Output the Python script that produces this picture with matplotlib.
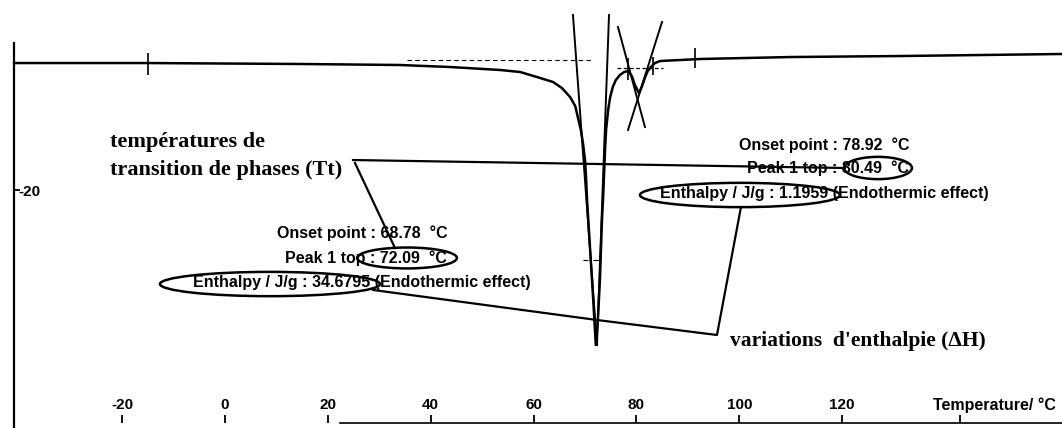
import matplotlib
matplotlib.use('Agg')
import matplotlib.pyplot as plt
from matplotlib.patches import Ellipse

# DSC thermogram
temp = [-41.0, -15.0, 14.6, 34.0, 43.8, 53.5, 57.4, 61.3, 63.8, 65.5,
        67.1, 68.1, 68.6, 69.2, 69.6, 70.0, 70.2, 70.4, 71.0, 71.6,
        72.1, 72.5, 72.9, 73.1, 73.3, 73.5, 73.7, 73.9, 74.1, 74.5,
        74.9, 75.4, 76.0, 76.8, 77.6, 78.4, 79.1, 79.7, 80.5, 81.1,
        81.7, 82.2, 82.8, 83.6, 84.6, 88.5, 92.4, 109.9, 131.3, 162.8]
heat = [-1.19, -1.19, -1.33, -1.48, -1.78, -2.22, -2.52, -3.41, -4.00, -4.89,
        -6.22, -7.56, -9.19, -11.11, -13.04, -15.56, -18.07, -21.48, -28.89, -36.30,
        -42.96, -39.26, -33.33, -28.89, -24.44, -21.48, -17.78, -14.07, -11.11, -8.15,
        -6.22, -4.74, -3.70, -2.96, -2.52, -2.37, -3.11, -4.44, -5.63, -4.59,
        -3.26, -2.37, -1.78, -1.19, -0.89, -0.74, -0.59, -0.30, -0.15, 0.15]

# integration limit marks on the curve
mark_t = [-15.0, 78.4, 83.3, 91.3]
mark_top = [0.30, -0.44, -0.30, 1.04]
mark_bot = [-2.96, -3.70, -2.96, -1.93]

# tangent lines (start, end) for both peaks
tangents = [([67.66, 72.33], [5.93, -42.96]),
            ([74.67, 72.33], [5.93, -42.96]),
            ([76.41, 81.66], [4.15, -10.67]),
            ([84.97, 78.36], [4.89, -11.11])]

xticks = [-20, 0, 20, 40, 60, 80, 100, 120]
xlabels = ['-20', '0', '20', '40', '60', '80', '100', '120']

peaks = [
    dict(onset='68.78', top='72.09', dh='34.6795'),
    dict(onset='78.92', top='80.49', dh='1.1959'),
]

sans = 'Liberation Sans'
serif = 'Liberation Serif'

fig = plt.figure(figsize=(10.62, 4.28), dpi=100)
ax = fig.add_axes([0, 0, 1, 1])
ax.set_xlim(-43.75, 162.75)
ax.set_ylim(-55.26, 8.15)

for s in ['top', 'right']:
    ax.spines[s].set_visible(False)
ax.spines['left'].set_position(('data', -41.0))
ax.spines['left'].set_bounds(-55.26, 1.78)
ax.spines['left'].set_linewidth(1.6)
ax.spines['bottom'].set_position(('data', -54.5))
ax.spines['bottom'].set_bounds(22.4, 162.75)
ax.spines['bottom'].set_linewidth(1.2)

ax.set_xticks(xticks)
ax.set_xticklabels(xlabels, fontweight='bold', family=sans)
ax.set_xticks([143], minor=True)
ax.tick_params(axis='x', which='both', direction='in', length=6, width=1.3,
               pad=-18, labelsize=11)
ax.set_yticks([-20])
ax.set_yticklabels(['-20'], fontweight='bold', family=sans, ha='left')
ax.tick_params(axis='y', direction='in', length=4, width=1.3, pad=-3,
               labelsize=11)

# curve
ax.plot(temp, heat, color='black', lw=1.8)
ax.vlines(mark_t, mark_bot, mark_top, color='black', lw=1.2)
ax.hlines([-0.74], 35.4, 71.6, color='black', lw=0.8, linestyles=(0, (4, 3)))
ax.hlines([-1.93], 76.2, 85.2, color='black', lw=0.9, linestyles=(0, (3, 2)))
ax.hlines([-30.37, -30.37], [69.6, 71.6], [70.6, 72.9], color='black', lw=0.8)
for tx, ty in tangents:
    ax.plot(tx, ty, color='black', lw=1.4)

# annotation blocks
blocks = [(26.64, [-26.37, -30.07, -33.63]), (116.47, [-13.33, -16.74, -20.59])]
for p, (cx, ys) in zip(peaks, blocks):
    ax.text(cx, ys[0], 'Onset point : %s  \u00b0C' % p['onset'], ha='center',
            va='center', fontsize=11.5, fontweight='bold', family=sans)
    ax.text(cx + 0.8, ys[1], 'Peak 1 top : %s  \u00b0C' % p['top'], ha='center',
            va='center', fontsize=11.5, fontweight='bold', family=sans)
    ax.text(cx, ys[2], 'Enthalpy / J/g : %s (Endothermic effect)' % p['dh'],
            ha='center', va='center', fontsize=11.5, fontweight='bold', family=sans)

ellipses = [(35.39, -30.07, 19.4, 3.1), (8.75, -33.93, 42.8, 3.6),
            (126.97, -16.74, 13.2, 3.3), (100.14, -20.74, 38.9, 3.6)]
for ex, ey, ew, eh in ellipses:
    ax.add_patch(Ellipse((ex, ey), ew, eh, fill=False, ec='black', lw=1.8))

# leader lines
ax.plot([24.89, 120.55], [-15.56, -16.74], color='black', lw=1.6)
ax.plot([25.28, 33.05], [-16.0, -28.59], color='black', lw=1.6)
ax.plot([28.78, 72.33, 95.66, 100.33], [-34.81, -39.26, -41.48, -22.52],
        color='black', lw=1.6)

ax.text(-22.36, -12.89, 'temp\u00e9ratures de', fontsize=16, fontweight='bold',
        family=serif, va='center')
ax.text(-22.36, -17.04, 'transition de phases (Tt)', fontsize=16,
        fontweight='bold', family=serif, va='center')
ax.text(98.19, -42.37, "variations  d'enthalpie (\u0394H)", fontsize=15.5,
        fontweight='bold', family=serif, va='center')
ax.text(137.66, -51.85, 'Temperature/ \u00b0C', fontsize=11.5, fontweight='bold',
        family=sans, va='center')

fig.savefig('out.png', dpi=100)
